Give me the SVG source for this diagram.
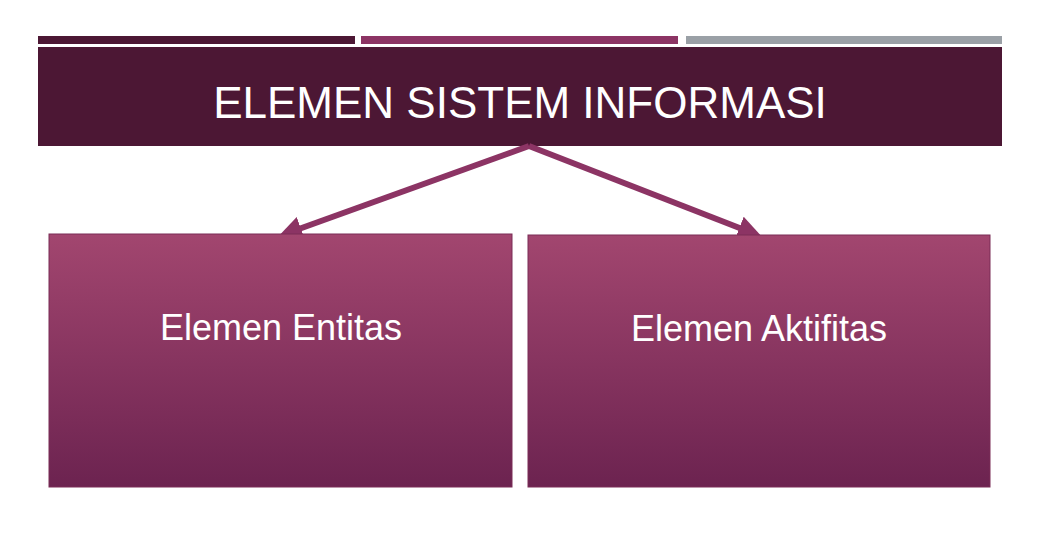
<svg xmlns="http://www.w3.org/2000/svg" width="1040" height="540" viewBox="0 0 1040 540">
<style>
.box{fill:url(#g);stroke:#7a2c56;stroke-width:1}
.lbl{font-family:"Liberation Sans",Arial,sans-serif;font-size:36px;fill:#fff;text-anchor:middle}
.con{stroke:#8c3464;stroke-width:6;fill:none;marker-end:url(#ah)}
</style>
<defs>
<linearGradient id="g" x1="0" y1="0" x2="0" y2="1"><stop offset="0" stop-color="#a2466f"/><stop offset="1" stop-color="#6c2350"/></linearGradient>
<marker id="ah" viewBox="0 0 10 10" refX="7" refY="5" markerWidth="4" markerHeight="4" orient="auto" markerUnits="strokeWidth"><path d="M0,0L10,5L0,10z" fill="#8c3464"/></marker>
</defs>
<rect x="0" y="0" width="1040" height="540" fill="#fff"/>
<rect x="38" y="36" width="317" height="8" fill="#4c1734"/>
<rect x="361" y="36" width="317" height="8" fill="#8c3464"/>
<rect x="686" y="36" width="316" height="8" fill="#9aa0a6"/>
<g id="header"><rect x="38" y="47" width="964" height="99" fill="#4c1734"/>
<text x="520" y="118" class="lbl" font-size="44" style="font-size:44px">ELEMEN SISTEM INFORMASI</text></g>
<g id="connectors">
<path class="con" d="M529,146L285,234"/>
<path class="con" d="M529,146L755,234"/>
</g>
<g id="entitas"><rect class="box" x="49" y="234" width="463" height="253"/><text x="281" y="340" class="lbl">Elemen Entitas</text></g>
<g id="aktifitas"><rect class="box" x="528" y="235" width="462" height="252"/><text x="759" y="341" class="lbl">Elemen Aktifitas</text></g>
</svg>
